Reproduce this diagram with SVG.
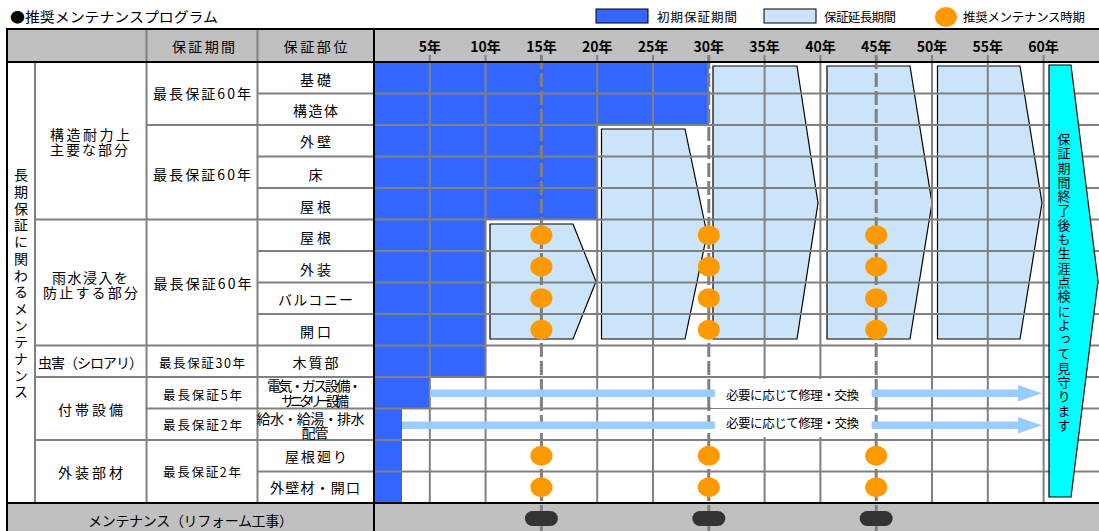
<svg xmlns="http://www.w3.org/2000/svg" width="1099" height="531" viewBox="0 0 1099 531">
<style>
text{font-family:'Noto Sans CJK JP','Noto Sans CJK SC',sans-serif;fill:#000;}
.c{text-anchor:middle;font-size:14px;}
.s{text-anchor:middle;font-size:12.5px;}
.yr{text-anchor:middle;font-size:14px;font-weight:bold;}
.lg{font-size:12.5px;}
.vt{writing-mode:vertical-rl;text-orientation:upright;}
.grid{stroke:#808080;stroke-width:2;fill:none;}
.thin{stroke:#808080;stroke-width:1.2;fill:none;}
.dash{stroke:#808080;stroke-width:3;stroke-dasharray:14 4;fill:none;}
.blk{stroke:#000;stroke-width:2;fill:none;}
.ext{fill:#cce4fa;stroke:#000;stroke-width:1.2;}
.init{fill:#3366ff;}
.dot{fill:#ff9900;}
.pill{fill:#333;}
.bar{fill:#99ccff;}
.hdr{fill:#c0c0c0;}
</style>
<rect x="0" y="0" width="1099" height="531" fill="#fff"/>

<g id="title"><text x="10" y="22" font-size="14" textLength="208" lengthAdjust="spacingAndGlyphs">●推奨メンテナンスプログラム</text></g>

<g id="legend">
<rect x="596" y="9" width="52" height="14" class="init" stroke="#000" stroke-width="1"/>
<text class="lg" x="657" y="21.5" textLength="80">初期保証期間</text>
<rect x="764" y="9" width="52" height="14" fill="#cce4fa" stroke="#000" stroke-width="1"/>
<text class="lg" x="824" y="21.5" textLength="72">保証延長期間</text>
<ellipse cx="946" cy="17" rx="11" ry="10" class="dot"/>
<text class="lg" x="963" y="21.5" textLength="122">推奨メンテナンス時期</text>
</g>

<g id="backgrounds">
<rect x="7" y="29" width="1092" height="33" class="hdr"/>
<rect x="7" y="503" width="1092" height="28" class="hdr"/>
</g>

<g id="initial-warranty">
<rect x="374" y="62" width="334.8" height="63" class="init"/>
<rect x="374" y="125" width="223.2" height="94.5" class="init"/>
<rect x="374" y="219.5" width="111.6" height="157.5" class="init"/>
<rect x="374" y="377" width="55.8" height="31.5" class="init"/>
<rect x="374" y="408.5" width="28" height="94.5" class="init"/>
</g>

<g id="extension">
<polygon class="ext" points="601.5,129 685,129 707,234 685,339 601.5,339"/>
<polygon class="ext" points="490,224 573,224 596,281.5 573,339 490,339"/>
<polygon class="ext" points="713,66 797,66 818,203 797,339 713,339"/>
<polygon class="ext" points="827,66 910,66 932,203 910,339 827,339"/>
<polygon class="ext" points="937.5,66 1020,66 1042,203 1020,339 937.5,339"/>
</g>

<g id="gridlines">
<path class="grid" d="M374 93.5H1099M374 125H1099M374 156.5H1099M374 188H1099M374 219.5H1099M374 251H1099M374 282.5H1099M374 314H1099M374 345.5H1099M374 377H1099M374 408.5H1099M374 440H1099M374 471.5H1099"/>
<path class="grid" d="M257.5 93.5H374M257.5 125H374M257.5 156.5H374M257.5 188H374M257.5 219.5H374M257.5 251H374M257.5 282.5H374M257.5 314H374M257.5 345.5H374M257.5 377H374M257.5 408.5H374M257.5 440H374M257.5 471.5H374"/>
<path class="grid" d="M146.5 125H257.5M146.5 219.5H257.5M146.5 345.5H257.5M146.5 377H257.5M146.5 408.5H257.5M146.5 440H257.5"/>
<path class="grid" d="M35 219.5H146.5M35 345.5H146.5M35 377H146.5M35 440H146.5"/>
<path class="grid" d="M35 62V503"/>
<path class="grid" stroke-width="2.5" d="M146.5 29V503M257.5 29V503"/>
<path class="grid" d="M429.8 55V503M485.6 55V503M597.2 55V503M653 55V503M764.6 55V503M820.4 55V503M932 55V503M987.8 55V503M1043.6 55V503"/>
</g>

<g id="end-shape">
<polygon points="1049,65 1071,65 1098,281 1071,497 1049,497" fill="#00ffff" stroke="#000" stroke-width="1.2"/>
<text class="vt" x="1064" y="132.5" font-size="13" letter-spacing="1.3">保証期間終了後も生涯点検によって見守ります</text>
</g>

<g id="label-box">
<rect x="711" y="379" width="163" height="58" fill="#fff"/>
<path class="thin" d="M711 408.5H874"/>
</g>

<g id="maintenance-lines">
<path class="dash" d="M541.4 55V531M708.8 55V531M876.2 55V531"/>
</g>

<g id="connectors">
<rect x="430" y="389.5" width="285" height="7.5" class="bar"/>
<polygon class="bar" points="871.7,389.5 1018,389.5 1018,385 1042,393.2 1018,401.5 1018,397 871.7,397"/>
<rect x="402" y="421.5" width="313" height="7.5" class="bar"/>
<polygon class="bar" points="871.7,421.5 1018,421.5 1018,417 1042,425.2 1018,433.5 1018,429 871.7,429"/>
<text class="s" x="792.5" y="399.5" textLength="133">必要に応じて修理・交換</text>
<text class="s" x="792.5" y="427.5" textLength="133">必要に応じて修理・交換</text>
</g>

<g id="maintenance-points">
<ellipse cx="541.4" cy="235.3" rx="11" ry="10" class="dot"/>
<ellipse cx="541.4" cy="266.8" rx="11" ry="10" class="dot"/>
<ellipse cx="541.4" cy="298.3" rx="11" ry="10" class="dot"/>
<ellipse cx="541.4" cy="329.8" rx="11" ry="10" class="dot"/>
<ellipse cx="541.4" cy="455.8" rx="11" ry="10" class="dot"/>
<ellipse cx="541.4" cy="487.3" rx="11" ry="10" class="dot"/>
<ellipse cx="708.8" cy="235.3" rx="11" ry="10" class="dot"/>
<ellipse cx="708.8" cy="266.8" rx="11" ry="10" class="dot"/>
<ellipse cx="708.8" cy="298.3" rx="11" ry="10" class="dot"/>
<ellipse cx="708.8" cy="329.8" rx="11" ry="10" class="dot"/>
<ellipse cx="708.8" cy="455.8" rx="11" ry="10" class="dot"/>
<ellipse cx="708.8" cy="487.3" rx="11" ry="10" class="dot"/>
<ellipse cx="876.2" cy="235.3" rx="11" ry="10" class="dot"/>
<ellipse cx="876.2" cy="266.8" rx="11" ry="10" class="dot"/>
<ellipse cx="876.2" cy="298.3" rx="11" ry="10" class="dot"/>
<ellipse cx="876.2" cy="329.8" rx="11" ry="10" class="dot"/>
<ellipse cx="876.2" cy="455.8" rx="11" ry="10" class="dot"/>
<ellipse cx="876.2" cy="487.3" rx="11" ry="10" class="dot"/>
<rect x="524.9" y="511" width="33" height="15" rx="7.5" class="pill"/>
<rect x="692.3" y="511" width="33" height="15" rx="7.5" class="pill"/>
<rect x="859.7" y="511" width="33" height="15" rx="7.5" class="pill"/>
</g>

<g id="borders">
<path class="blk" d="M7 29H1099M7 62H1099M7 503H1099"/>
<path class="blk" d="M7 28V531M374 28V531"/>
</g>

<g id="header-text">
<text class="c" x="203.5" y="52" font-size="15" textLength="63">保証期間</text>
<text class="c" x="315.5" y="52" font-size="15" textLength="64">保証部位</text>
<text class="yr" x="429.8" y="52">5年</text>
<text class="yr" x="485.6" y="52">10年</text>
<text class="yr" x="541.4" y="52">15年</text>
<text class="yr" x="597.2" y="52">20年</text>
<text class="yr" x="653" y="52">25年</text>
<text class="yr" x="708.8" y="52">30年</text>
<text class="yr" x="764.6" y="52">35年</text>
<text class="yr" x="820.4" y="52">40年</text>
<text class="yr" x="876.2" y="52">45年</text>
<text class="yr" x="932" y="52">50年</text>
<text class="yr" x="987.8" y="52">55年</text>
<text class="yr" x="1043.6" y="52">60年</text>
</g>

<g id="category-long-term">
<text class="vt" x="21" y="168" font-size="14" letter-spacing="2.7">長期保証に関わるメンテナンス</text>
</g>

<g id="group-structure">
<text class="c" x="90" y="140" textLength="80">構造耐力上</text>
<text class="c" x="89" y="155" textLength="78">主要な部分</text>
<text class="c" x="202" y="99" textLength="98">最長保証60年</text>
<text class="c" x="202" y="180" textLength="98">最長保証60年</text>
<text class="c" x="315.5" y="85" font-size="15" textLength="31">基礎</text>
<text class="c" x="315.5" y="116" font-size="15" textLength="45">構造体</text>
<text class="c" x="315.5" y="147" font-size="15" textLength="31">外壁</text>
<text class="c" x="315.5" y="180" font-size="15">床</text>
<text class="c" x="315.5" y="212" font-size="15" textLength="31">屋根</text>
</g>

<g id="group-rain">
<text class="c" x="90" y="283" textLength="76">雨水浸入を</text>
<text class="c" x="90.5" y="298" textLength="95">防止する部分</text>
<text class="c" x="202.5" y="289" textLength="98">最長保証60年</text>
<text class="c" x="315.5" y="243" font-size="15" textLength="31">屋根</text>
<text class="c" x="315.5" y="275" font-size="15" textLength="31">外装</text>
<text class="c" x="315.5" y="305" font-size="15" textLength="75">バルコニー</text>
<text class="c" x="315.5" y="337" font-size="15" textLength="31">開口</text>
</g>

<g id="group-termite">
<text class="c" x="90.5" y="368" textLength="105">虫害（シロアリ）</text>
<text class="s" x="202" y="368" textLength="86">最長保証30年</text>
<text class="c" x="315.5" y="368" font-size="15" textLength="46">木質部</text>
</g>

<g id="group-equipment">
<text class="c" x="90.5" y="415" textLength="65">付帯設備</text>
<text class="s" x="202.5" y="400" textLength="79">最長保証5年</text>
<text class="s" x="202.5" y="430" textLength="79">最長保証2年</text>
<text class="c" x="314.5" y="391" font-size="12" textLength="95">電気・ガス設備・</text>
<text class="c" x="315" y="405.5" font-size="10.5" textLength="68">サニタリー設備</text>
<text class="c" x="310.5" y="423.5" font-size="12.5" textLength="108">給水・給湯・排水</text>
<text class="c" x="315" y="437.5" font-size="12.5" textLength="27">配管</text>
</g>

<g id="group-exterior">
<text class="c" x="90.5" y="478" textLength="65">外装部材</text>
<text class="s" x="202" y="477" textLength="78">最長保証2年</text>
<text class="c" x="316" y="462" font-size="15" textLength="62">屋根廻り</text>
<text class="c" x="315" y="493" font-size="14.5" textLength="90">外壁材・開口</text>
</g>

<g id="footer">
<text class="c" x="190.5" y="526" textLength="205">メンテナンス（リフォーム工事）</text>
</g>
</svg>
